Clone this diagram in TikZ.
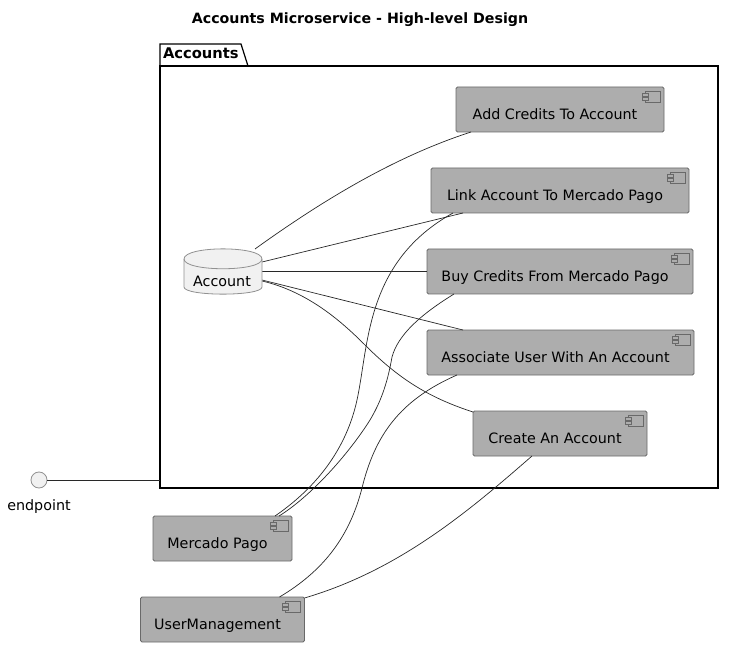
\documentclass[tikz,border=0pt]{standalone}
\usepackage{fontspec}
\setmainfont{DejaVu Sans}
\usetikzlibrary{positioning}
\definecolor{boxfill}{RGB}{173, 173, 173}
\definecolor{boxline}{RGB}{105, 105, 105}
\definecolor{soft}{RGB}{241, 241, 241}
\definecolor{softline}{RGB}{145, 145, 145}
\definecolor{wire}{RGB}{40, 40, 40}

\begin{document}
\begin{tikzpicture}[
      x=1pt, y=-1pt,
      every node/.style={font=\fontsize{14.3}{16}\selectfont, outer sep=0pt},
      comptext/.style={xshift=-5pt, yshift=-6.5pt, inner sep=0pt, text height=10pt, text depth=3pt},
      component/.style={rectangle, draw=boxline, fill=boxfill, rounded corners=1.5pt,
                  minimum height=45pt, line width=0.8pt},
      compicon/.pic={
        \draw[boxline, line width=0.7pt] (-19,4) rectangle (-4,15);
        \draw[boxline, line width=0.7pt, fill=boxfill] (-22,6.5) rectangle (-16,9);
        \draw[boxline, line width=0.7pt, fill=boxfill] (-22,10.5) rectangle (-16,13);
      },
      wirestyle/.style={draw=wire, line width=0.7pt}
    ]
    \useasboundingbox (0,0) rectangle (734,647);

    \node[anchor=base, font=\fontsize{14.2}{16}\selectfont\bfseries] (title) at (360,23.5) {Accounts Microservice - High-level Design};

    % package frame and tab
    \node[rectangle, draw=black, line width=1.2pt, minimum width=558pt, minimum height=422pt] (accounts) at (439,277) {};
    \draw[black, line width=1.2pt] (accounts.north west) -- (160,44) -- (241,44) -- (248,66);
    \node[anchor=base west, inner sep=0pt, font=\fontsize{14.7}{16}\selectfont\bfseries] (tab) at (163,59) {Accounts};

    \node[component, minimum width=208pt, label={[comptext]center:Add Credits To Account}] (add) at (560,109.5) {};
    \node[component, minimum width=258pt, below=36pt of add, label={[comptext]center:Link Account To Mercado Pago}] (link) {};
    \node[component, minimum width=266pt, below=36pt of link, label={[comptext]center:Buy Credits From Mercado Pago}] (buy) {};
    \node[component, minimum width=267pt, below=36pt of buy, xshift=0.5pt, label={[comptext]center:Associate User With An Account}] (assoc) {};
    \node[component, minimum width=174pt, below=36pt of assoc, xshift=-0.5pt, label={[comptext]center:Create An Account}] (create) {};

    \node[rectangle, minimum width=78pt, minimum height=46pt, inner sep=0pt] (account) at (223,271.5) {};

    \node[component, minimum width=139pt, label={[comptext]center:Mercado Pago}] (mercado) at (222.5,538.5) {};
    \node[component, minimum width=164pt, below=36pt of mercado, label={[comptext]center:UserManagement}] (user) {};

    \foreach \n in {add,link,buy,assoc,create,mercado,user}
      \pic at (\n.north east) {compicon};

    \node[circle, draw=softline, fill=soft, minimum size=16pt, inner sep=0pt, line width=0.8pt] (endpoint) at (39,480) {};
    \node[anchor=base, inner sep=0pt] (endlabel) at (39,510) {endpoint};

    \draw[wirestyle] (endpoint) -- (accounts.west |- endpoint);

    \draw[wirestyle] ([xshift=32pt, yshift=22.5pt]account.center) .. controls (330,195) and (400,155) .. ([xshift=15pt]add.south west);
    \draw[wirestyle] ([xshift=39pt, yshift=9.5pt]account.center) -- ([xshift=32pt]link.south west);
    \draw[wirestyle] (account.east) -- (account.east -| buy.west);
    \draw[wirestyle] ([xshift=39pt, yshift=-8.5pt]account.center) -- ([xshift=36pt]assoc.north west);
    \draw[wirestyle] ([xshift=39pt, yshift=-9.5pt]account.center) .. controls (310,292) and (345,325) .. (365,345) .. controls (400,380) and (430,398) .. ([yshift=-1pt]create.north west);

    \draw[wirestyle] ([xshift=122pt]mercado.north west) .. controls (310,492) and (345,455) .. (357,400) .. controls (369,345) and (365,262) .. ([xshift=22pt]link.south west);
    \draw[wirestyle] ([xshift=126pt]mercado.north west) .. controls (310,497) and (348,455) .. (370,420) .. controls (382,400) and (388,380) .. (392,357) .. controls (398,335) and (420,315) .. ([xshift=27pt]buy.south west);
    \draw[wirestyle] ([xshift=139pt]user.north west) .. controls (325,570) and (350,535) .. (362,488) .. controls (375,435) and (400,400) .. ([xshift=30pt]assoc.south west);
    \draw[wirestyle] ([yshift=-1pt]user.north east) .. controls (400,570) and (470,510) .. ([xshift=59pt]create.south west);

    % database outline
    \draw[softline, fill=soft, line width=0.8pt] (account.west |- 0,259) .. controls (184,245.5) and (262,245.5) .. (account.east |- 0,259) -- (account.east |- 0,287) .. controls (262,296.5) and (184,296.5) .. (account.west |- 0,287) -- cycle;
    \draw[softline, line width=0.8pt] (account.west |- 0,259) .. controls (184,272) and (262,272) .. (account.east |- 0,259);
    \node[inner sep=0pt, text height=10pt, text depth=3pt, xshift=-1pt, yshift=-12pt] (accountlabel) at (account.center) {Account};
  \end{tikzpicture}
\end{document}
